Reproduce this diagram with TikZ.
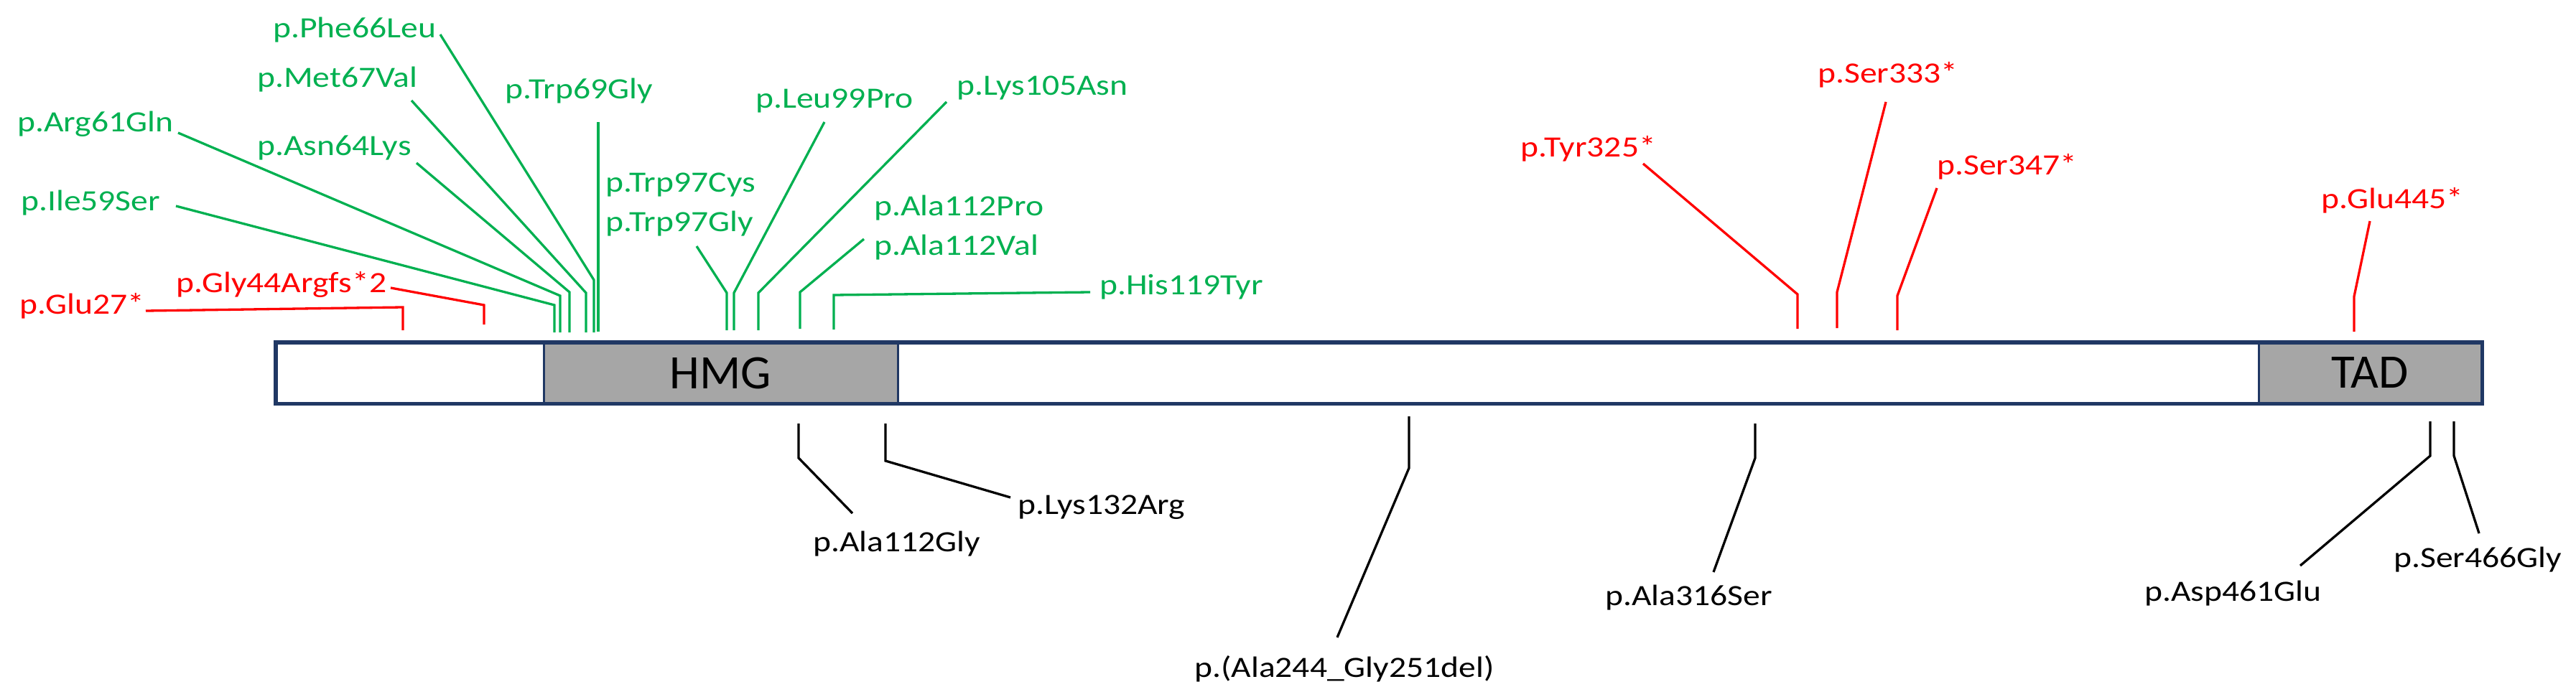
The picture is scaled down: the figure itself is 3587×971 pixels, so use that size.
\documentclass[tikz,border=0pt]{standalone}
\usepackage{fontspec}
\setmainfont{Carlito}
\newfontfamily\labfont[FakeStretch=1.16]{Carlito}
\definecolor{mgreen}{HTML}{00B050}
\definecolor{mred}{HTML}{FF0000}
\definecolor{navy}{HTML}{203864}
\definecolor{dgray}{HTML}{A6A6A6}
\newcommand\mutline[5]{%
  \path (#3) coordinate (#1a) (#4) coordinate (#1b) (#5) coordinate (#1c);
  \draw[#2] (#1a) -- (#1b) -- (#1c);}
\begin{document}
\begin{tikzpicture}[x=1pt,y=-1pt,
  lab/.style={anchor=base west, inner sep=0pt, font=\labfont\fontsize{41}{49}\selectfont},
  glab/.style={lab, text=mgreen},
  rlab/.style={lab, text=mred},
  klab/.style={lab, text=black},
  conn/.style={line width=3.3pt, line join=miter},
  gconn/.style={conn, draw=mgreen},
  rconn/.style={conn, draw=mred},
  kconn/.style={conn, draw=black},
  seg/.style={draw=navy, line width=3pt, minimum height=83pt, inner sep=0pt, font=\fontsize{67}{80}\selectfont},
]
\useasboundingbox (0,0) rectangle (3587,971);

% protein bar
\node[seg, fill=white, minimum width=372pt] (nterm) at (571,519.5) {};
\node[seg, fill=dgray, minimum width=493pt] (hmg) at (1003.5,519.5) {HMG};
\node[seg, fill=white, minimum width=1895pt] (mid) at (2197.5,519.5) {};
\node[seg, fill=dgray, minimum width=310pt] (tad) at (3300,519.5) {TAD};
\draw[navy, line width=5pt] (nterm.north west) rectangle (tad.south east);

% green labels
\node[glab] (phe66) at (380,53) {p.Phe66Leu};
\node[glab] (met67) at (358,122) {p.Met67Val};
\node[glab] (trp69) at (703,138) {p.Trp69Gly};
\node[glab] (arg61) at (24,183) {p.Arg61Gln};
\node[glab] (asn64) at (358,216) {p.Asn64Lys};
\node[glab] (ile59) at (29,293) {p.Ile59Ser};
\node[glab] (trp97c) at (843,267) {p.Trp97Cys};
\node[glab] (trp97g) at (843,322) {p.Trp97Gly};
\node[glab] (leu99) at (1052,150) {p.Leu99Pro};
\node[glab] (lys105) at (1332,133) {p.Lys105Asn};
\node[glab] (ala112p) at (1217,300) {p.Ala112Pro};
\node[glab] (ala112v) at (1217,355) {p.Ala112Val};
\node[glab] (his119) at (1531,410) {p.His119Tyr};

% red labels
\node[rlab] (glu27) at (27,437) {p.Glu27*};
\node[rlab] (gly44) at (245,407) {p.Gly44Argfs*2};
\node[rlab] (tyr325) at (2117,218) {p.Tyr325*};
\node[rlab] (ser333) at (2531,116) {p.Ser333*};
\node[rlab] (ser347) at (2697,243) {p.Ser347*};
\node[rlab] (glu445) at (3232,290) {p.Glu445*};

% black labels
\node[klab] (ala112g) at (1132,768) {p.Ala112Gly};
\node[klab] (lys132) at (1417,716) {p.Lys132Arg};
\node[klab] (del) at (1663,943) {p.(Ala244\_Gly251del)};
\node[klab] (ala316) at (2235,843) {p.Ala316Ser};
\node[klab] (asp461) at (2986,837) {p.Asp461Glu};
\node[klab] (ser466) at (3333,790) {p.Ser466Gly};

% green connectors
\mutline{lI}{gconn}{245,287}{772,425}{772,463}
\mutline{lA}{gconn}{248,185}{780,412}{780,463}
\mutline{lN}{gconn}{580,227}{793,407}{793,463}
\mutline{lM}{gconn}{573,140}{816,408}{816,463}
\mutline{lF}{gconn}{613,48}{827,390}{827,463}
\path (833,170) coordinate (lWa) (833,462) coordinate (lWb);
\draw[gconn] (lWa) -- (lWb);
\mutline{lT}{gconn}{970,343}{1012,408}{1012,460}
\mutline{lL}{gconn}{1148,170}{1022,408}{1022,460}
\mutline{lK}{gconn}{1318,142}{1056,408}{1056,460}
\mutline{lP}{gconn}{1203,333}{1114,407}{1114,458}
\mutline{lH}{gconn}{1518,407}{1161,411}{1161,459}

% red connectors
\mutline{rE}{rconn}{203,433}{561,428}{561,460}
\mutline{rG}{rconn}{544,401}{674,425}{674,452}
\mutline{rY}{rconn}{2288,228}{2503,410}{2503,458}
\mutline{rS}{rconn}{2626,142}{2558,407}{2558,457}
\mutline{rT}{rconn}{2697,262}{2642,412}{2642,460}
\mutline{rU}{rconn}{3300,308}{3278,413}{3278,462}

% black connectors
\mutline{kA}{kconn}{1112,590}{1112,638}{1187,715}
\mutline{kK}{kconn}{1233,590}{1233,642}{1407,693}
\mutline{kD}{kconn}{1962,580}{1962,652}{1862,888}
\mutline{kS}{kconn}{2444,590}{2444,638}{2386,797}
\mutline{kE}{kconn}{3384,587}{3384,635}{3203,788}
\mutline{kG}{kconn}{3417,587}{3417,635}{3452,743}
\end{tikzpicture}
\end{document}
